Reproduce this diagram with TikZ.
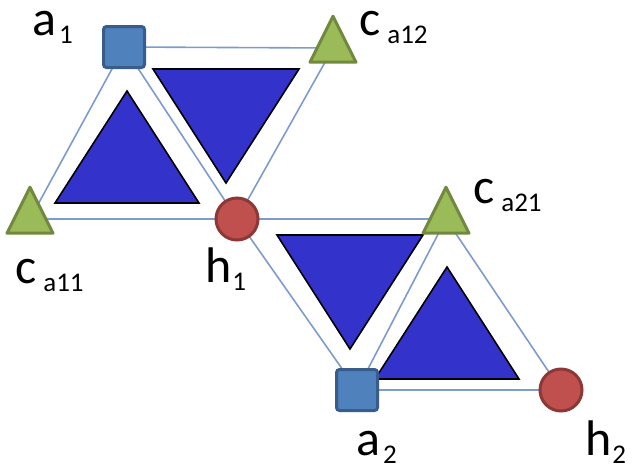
\documentclass[tikz,border=0pt]{standalone}
\usepackage{fontspec}
\setmainfont{Carlito}
\usetikzlibrary{shapes.geometric, backgrounds}
\definecolor{cSq}{RGB}{79,129,189}
\definecolor{cSqEdge}{RGB}{56,93,138}
\definecolor{cTri}{RGB}{155,187,89}
\definecolor{cTriEdge}{RGB}{113,137,63}
\definecolor{cCirc}{RGB}{192,80,77}
\definecolor{cCircEdge}{RGB}{140,56,54}
\definecolor{cLink}{RGB}{125,155,205}
\definecolor{cFace}{RGB}{51,51,204}
\newcommand{\lbl}[3][3pt]{\fontsize{50}{50}\selectfont #2\hspace{#1}\raisebox{-8pt}{\fontsize{27}{27}\selectfont #3}}

\begin{document}
\begin{tikzpicture}[x=1pt, y=-1pt,
    sqnode/.style={rectangle, rounded corners=3pt, minimum size=41pt, inner sep=0pt,
      fill=cSq, draw=cSqEdge, line width=3pt},
    trinode/.style={isosceles triangle, isosceles triangle stretches, shape border rotate=90,
      minimum width=46pt, minimum height=46pt, inner sep=0pt,
      fill=cTri, draw=cTriEdge, line width=3pt, line join=round},
    circnode/.style={circle, minimum size=42pt, inner sep=0pt,
      fill=cCirc, draw=cCircEdge, line width=3pt},
    linkline/.style={draw=cLink, line width=1.6pt},
    facetri/.style={fill=cFace, draw=black, line width=1.6pt},
    every node/.style={text=black}]
  \useasboundingbox (0,0) rectangle (632,467);

  % filled faces
  \draw[facetri] (127,91) -- (55,203) -- (199,203) -- cycle;
  \draw[facetri] (153,69) -- (299,69) -- (226,183) -- cycle;
  \draw[facetri] (277,235) -- (423,235) -- (350,349) -- cycle;
  \draw[facetri] (447,267) -- (375,379) -- (519,379) -- cycle;

  % vertices
  \node[sqnode] (a1) at (124,47) {};
  \node[trinode] (ca12) at (333,48) {};
  \node[trinode] (ca11) at (30,219) {};
  \node[circnode] (h1) at (237,219) {};
  \node[trinode] (ca21) at (446,219) {};
  \node[sqnode] (a2) at (357,390) {};
  \node[circnode] (h2) at (561,390) {};

  % links
  \begin{scope}[on background layer]
    \draw[linkline] (a1.center) -- (ca12.center);
    \draw[linkline] (a1.center) -- (ca11.center);
    \draw[linkline] (a1.center) -- (h1.center);
    \draw[linkline] (ca12.center) -- (h1.center);
    \draw[linkline] (ca11.center) -- (h1.center);
    \draw[linkline] (h1.center) -- (ca21.center);
    \draw[linkline] (h1.center) -- (a2.center);
    \draw[linkline] (ca21.center) -- (a2.center);
    \draw[linkline] (ca21.center) -- (h2.center);
    \draw[linkline] (a2.center) -- (h2.center);
  \end{scope}

  % labels
  \node[anchor=base west, inner sep=0pt] (la1) at (32,35) {\lbl{a}{1}};
  \node[anchor=base west, inner sep=0pt] (lca12) at (359,35) {\lbl[7pt]{c}{a12}};
  \node[anchor=base west, inner sep=0pt] (lca11) at (15,283) {\lbl[7pt]{c}{a11}};
  \node[anchor=base west, inner sep=0pt] (lh1) at (205,282) {\lbl[1pt]{h}{1}};
  \node[anchor=base west, inner sep=0pt] (lca21) at (473,203) {\lbl[7pt]{c}{a21}};
  \node[anchor=base west, inner sep=0pt] (la2) at (356,455) {\lbl{a}{2}};
  \node[anchor=base west, inner sep=0pt] (lh2) at (585,455) {\lbl[1pt]{h}{2}};
\end{tikzpicture}
\end{document}
